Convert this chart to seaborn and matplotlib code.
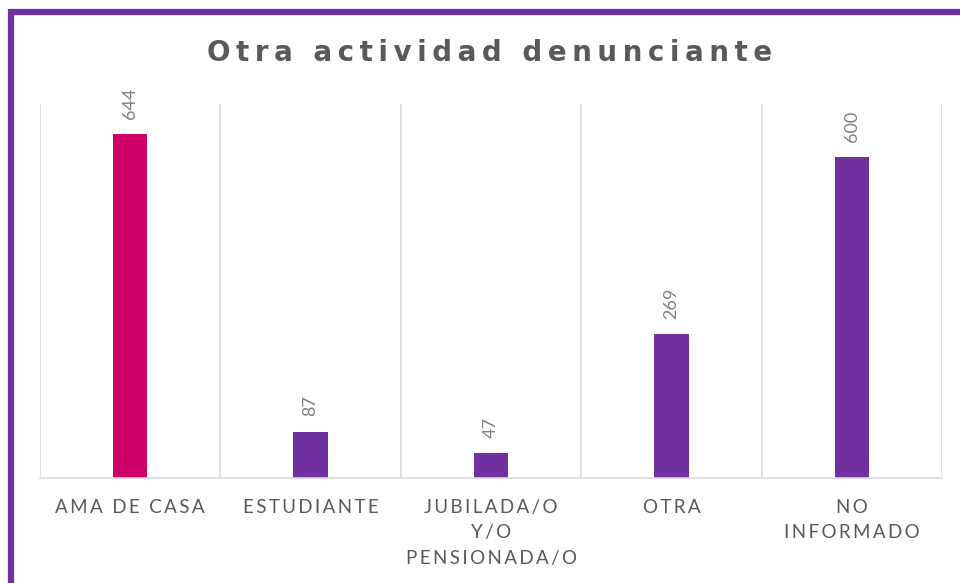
import matplotlib
matplotlib.use("Agg")
import matplotlib.pyplot as plt
import seaborn as sns
import pandas as pd
from matplotlib.lines import Line2D

categories = ["AMA DE CASA", "ESTUDIANTE", "JUBILADA/O\nY/O\nPENSIONADA/O", "OTRA", "NO\nINFORMADO"]
values = [644, 87, 47, 269, 600]
colors = ["#CC0066", "#7030A0", "#7030A0", "#7030A0", "#7030A0"]
title = "Otra actividad denunciante"

THIN = "\u2009"


def spaced(s):
    return "\n".join(THIN.join(line) for line in s.split("\n"))


df = pd.DataFrame({"cat": categories, "val": values})

sns.set_theme(style="white")
plt.rcParams["font.family"] = ["Lato", "DejaVu Sans"]

fig = plt.figure(figsize=(9.6, 5.83), dpi=100)
ax = fig.add_axes([40 / 960, 1 - 478 / 583, (942 - 40) / 960, (478 - 104) / 583])

sns.barplot(data=df, x="cat", y="val", hue="cat", palette=colors, legend=False,
            width=0.19, ax=ax, saturation=1, linewidth=0)

ax.set_ylim(0, 700)
ax.set_xlim(-0.5, len(categories) - 0.5)
for i in range(len(categories) + 1):
    ax.axvline(i - 0.5, color="#d9d9d9", lw=1.2, zorder=0)

for s in ["top", "right", "left"]:
    ax.spines[s].set_visible(False)
ax.spines["bottom"].set_color("#d9d9d9")
ax.spines["bottom"].set_linewidth(1.2)
ax.set_yticks([])
ax.set_xlabel("")
ax.set_ylabel("")
ax.set_xticks(range(len(categories)))
ax.set_xticklabels([spaced(c) for c in categories])
ax.tick_params(axis="x", length=0, pad=15, labelsize=13.5, labelcolor="#595959")
for lab in ax.get_xticklabels():
    lab.set_linespacing(1.6)
    lab.set_verticalalignment("top")

for c in ax.containers:
    ax.bar_label(c, padding=11, rotation=90, fontsize=13, color="#808080")

fig.text(490 / 960, 1 - 53 / 583, spaced(title), ha="center", va="center",
         fontsize=20, fontweight="bold", color="#595959", family=["DejaVu Sans"])

# purple frame (top and left edges)
fig.add_artist(Line2D([8 / 960, 1.0], [1 - 11.5 / 583, 1 - 11.5 / 583],
                      transform=fig.transFigure, color="#7030A0", lw=4.5, solid_capstyle="butt"))
fig.add_artist(Line2D([11 / 960, 11 / 960], [1 - 9 / 583, 0],
                      transform=fig.transFigure, color="#7030A0", lw=4.5, solid_capstyle="butt"))

fig.savefig("out.png", dpi=100)
